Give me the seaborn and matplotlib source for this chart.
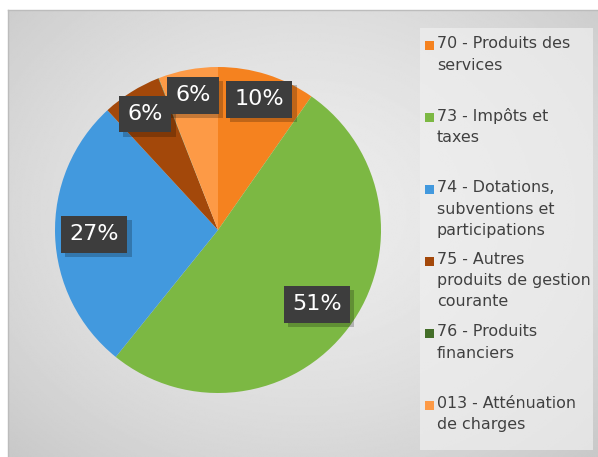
import textwrap
import numpy as np
import matplotlib
matplotlib.use("Agg")
import matplotlib.pyplot as plt
import matplotlib.patheffects as pe
from matplotlib.patches import Rectangle
import seaborn as sns

# Data
categories = [
    "70 - Produits des services",
    "73 - Impôts et taxes",
    "74 - Dotations, subventions et participations",
    "75 - Autres produits de gestion courante",
    "76 - Produits financiers",
    "013 - Atténuation de charges",
]
shares = [9.7, 51.0, 27.3, 5.9, 0.05, 5.9]
colors = ["#F5821F", "#7CB843", "#4299DE", "#A3480A", "#436E28", "#FD9A46"]

sns.set_theme(style="white")
plt.rcParams["font.family"] = ["DejaVu Sans"]

W, H = 598, 457
fig = plt.figure(figsize=(W / 100, H / 100), dpi=100)
fig.patch.set_facecolor("white")

# gray radial gradient background of the chart area
bg = fig.add_axes([8 / W, 0, (W - 8) / W, (H - 10) / H], zorder=0)
yy, xx = np.mgrid[0:1:300j, 0:1:400j]
dist = np.sqrt(((xx - 0.5) / 0.75) ** 2 + ((yy - 0.45) / 0.8) ** 2)
shade = 0.925 - 0.15 * np.clip(dist, 0, 1) ** 1.6
bg.imshow(shade, cmap="gray", vmin=0, vmax=1, aspect="auto",
          extent=[0, 1, 1, 0], interpolation="bilinear")
bg.set_xticks([])
bg.set_yticks([])
for side, sp in bg.spines.items():
    sp.set_visible(side in ("top", "left"))
    sp.set_color("#bcbcbc")
    sp.set_linewidth(1)

# pie
cx, cy, r = 218, 230, 163
ax = fig.add_axes([(cx - r) / W, (H - cy - r) / H, 2 * r / W, 2 * r / H], zorder=1)
palette = sns.color_palette(colors)


def pct_label(p):
    return f"{p:.0f}%" if p >= 1 else ""


wedges, _, autotexts = ax.pie(
    shares, colors=palette, startangle=90, counterclock=False,
    autopct=pct_label, pctdistance=0.82,
    wedgeprops=dict(linewidth=0),
    textprops=dict(color="white", fontsize=16,
                   bbox=dict(boxstyle="square,pad=0.38", fc="#3d3d3d", ec="none")),
)
ax.set_xlim(-1, 1)
ax.set_ylim(-1, 1)
ax.set_aspect("equal")

for t, s in zip(autotexts, shares):
    x, y = t.get_position()
    k = 0.76 / 0.82 if s > 20 else 0.84 / 0.82
    t.set_position((x * k, y * k))
    t.get_bbox_patch().set_path_effects([
        pe.SimplePatchShadow(offset=(3, -3), shadow_rgbFace="black", alpha=0.22),
        pe.Normal(),
    ])

# legend panel drawn in pixel coordinates
ov = fig.add_axes([0, 0, 1, 1], zorder=2)
ov.set_xlim(0, W)
ov.set_ylim(H, 0)
ov.axis("off")
ov.add_patch(Rectangle((420, 28), 173, 422, fc="#efefef", ec="none", alpha=0.7))

y0, step = 45, 72
for i, (name, col) in enumerate(zip(categories, palette)):
    yc = y0 + i * step
    ov.add_patch(Rectangle((425, yc - 4.5), 9, 9, fc=col, ec="none"))
    ov.text(437, yc - 8.5, textwrap.fill(name, 19), va="top", ha="left",
            fontsize=11.4, color="#404040", linespacing=1.5)

fig.savefig("out.png", dpi=100)
